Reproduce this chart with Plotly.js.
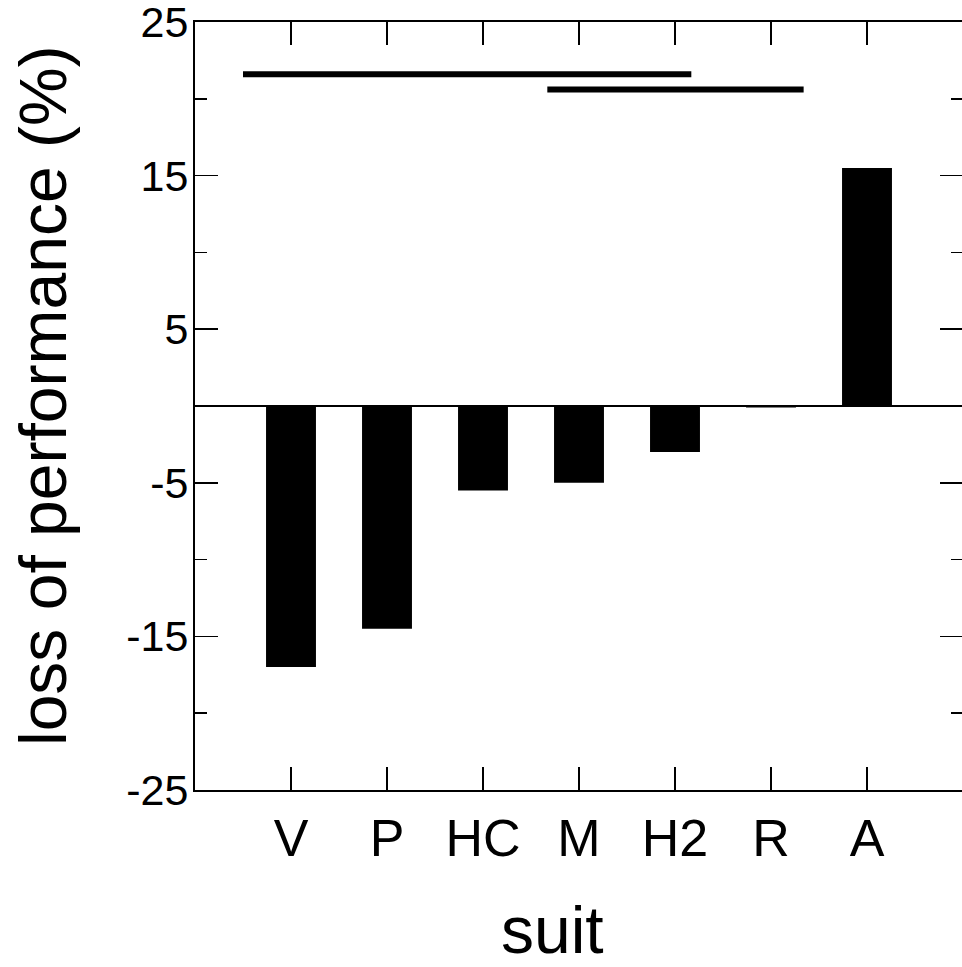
<!DOCTYPE html>
<html>
<head>
<meta charset="utf-8">
<script src="https://cdn.plot.ly/plotly-3.0.1.min.js"></script>
<style>
html, body { margin: 0; padding: 0; overflow: hidden; background: #fff; }
#chart { width: 963px; height: 967px; }
</style>
</head>
<body>
<div id="chart"></div>
<script>
// ---- data ----
const categories = ['V', 'P', 'HC', 'M', 'H2', 'R', 'A'];
const lossValues = [-17.0, -14.5, -5.5, -5.0, -3.0, -0.1, 15.5];
const yTickVals = [-25, -15, -5, 5, 15, 25];
const yTickText = ['-25', '-15', '-5', '5', '15', '25'];
// significance bars (x in category units, y in %)
const sigStart = [-0.5, 2.67];
const sigEnd = [4.17, 5.34];
const sigY = [21.6, 20.6];

const FONT = 'Arial, "Liberation Sans", sans-serif';

const traces = [{
  type: 'bar',
  x: categories.map((c, i) => i),
  y: lossValues,
  width: 0.52,
  marker: { color: '#000000', line: { width: 0 } },
  hoverinfo: 'x+y',
  showlegend: false
}];

sigStart.forEach((s, i) => {
  traces.push({
    type: 'scatter',
    mode: 'lines',
    x: [s, sigEnd[i]],
    y: [sigY[i], sigY[i]],
    line: { color: '#000000', width: 6 },
    showlegend: false,
    hoverinfo: 'skip'
  });
});

const layout = {
  width: 963,
  height: 967,
  margin: { l: 195, r: 0, t: 22, b: 177 },
  paper_bgcolor: '#ffffff',
  plot_bgcolor: '#ffffff',
  font: { family: FONT, color: '#000000' },
  showlegend: false,
  xaxis: {
    range: [-1, 7],
    tickmode: 'array',
    tickvals: categories.map((c, i) => i),
    ticktext: categories,
    ticks: 'inside',
    ticklen: 23,
    tickwidth: 1.5,
    tickcolor: '#000000',
    showline: true,
    linecolor: '#000000',
    linewidth: 2,
    mirror: 'ticks',
    showgrid: false,
    zeroline: false,
    tickfont: { family: FONT, size: 52, color: '#000000' },
    ticklabelstandoff: 2,
    ticklabeloverflow: 'allow'
  },
  yaxis: {
    range: [-25, 25],
    tickmode: 'array',
    tickvals: yTickVals,
    ticktext: yTickText,
    ticks: 'inside',
    ticklen: 23,
    tickwidth: 1.5,
    tickcolor: '#000000',
    minor: { tick0: -20, dtick: 10, ticks: 'inside', ticklen: 12, tickwidth: 1.5, tickcolor: '#000000', showgrid: false },
    showline: true,
    linecolor: '#000000',
    linewidth: 2,
    mirror: 'ticks',
    showgrid: false,
    zeroline: true,
    zerolinecolor: '#000000',
    zerolinewidth: 1.2,
    tickfont: { family: FONT, size: 43, color: '#000000' },
    ticklabelstandoff: -4,
    ticklabeloverflow: 'allow'
  },
  annotations: [
    {
      text: 'suit', xref: 'paper', yref: 'paper',
      x: (552 - 195) / 768, y: (790 - 930) / 768,
      xanchor: 'center', yanchor: 'middle', showarrow: false,
      height: 70,
      font: { family: FONT, size: 66, color: '#000000' }
    },
    {
      text: 'loss of performance (%)', xref: 'paper', yref: 'paper',
      x: (43 - 195) / 768, y: (790 - 396) / 768,
      xanchor: 'center', yanchor: 'middle', showarrow: false, textangle: -90,
      font: { family: FONT, size: 66, color: '#000000' }
    }
  ]
};

Plotly.newPlot('chart', traces, layout, { displayModeBar: false, staticPlot: true });
</script>
</body>
</html>
